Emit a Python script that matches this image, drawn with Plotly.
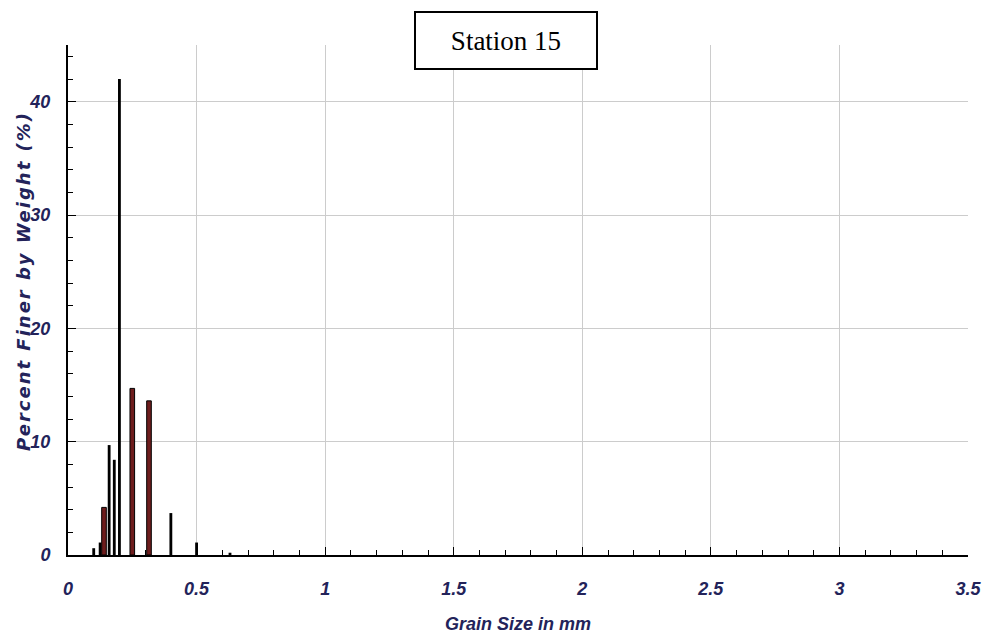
import plotly.graph_objects as go

# Grain size (mm) and percent by weight
black_sizes = [0.1, 0.125, 0.16, 0.18, 0.2, 0.4, 0.5, 0.63]
black_pct = [0.6, 1.1, 9.7, 8.4, 42.0, 3.7, 1.1, 0.2]
red_sizes = [0.14, 0.25, 0.315]
red_pct = [4.2, 14.7, 13.6]

x_ticks = [0, 0.5, 1, 1.5, 2, 2.5, 3, 3.5]
x_tick_text = ["0", "0.5", "1", "1.5", "2", "2.5", "3", "3.5"]
y_ticks = [0, 10, 20, 30, 40]

label_color = "#23235a"
tick_font = dict(family="Liberation Sans Narrow, Liberation Sans, Arial", size=18, color=label_color,
                 weight="bold", style="italic")
title_font_y = dict(family="DejaVu Sans", size=18, color=label_color,
                    weight="bold", style="italic")
title_font_x = dict(family="Liberation Sans Narrow, Liberation Sans, Arial", size=18, color=label_color,
                    weight="bold", style="italic")

fig = go.Figure()
fig.add_trace(go.Bar(x=black_sizes, y=black_pct, width=0.011,
                     marker=dict(color="black", line=dict(width=0)),
                     showlegend=False))
fig.add_trace(go.Bar(x=red_sizes, y=red_pct, width=0.018,
                     marker=dict(color="#6e1d1d", line=dict(color="black", width=1)),
                     showlegend=False))

fig.update_layout(
    width=984, height=642,
    margin=dict(l=68, r=16, t=45, b=87),
    paper_bgcolor="white", plot_bgcolor="white",
    barmode="overlay",
    xaxis=dict(range=[0, 3.5], tickvals=x_ticks, ticktext=x_tick_text, automargin=False,
               showgrid=True, gridcolor="#cccccc", gridwidth=1,
               showline=True, linecolor="black", linewidth=2,
               ticks="inside", ticklen=8, tickcolor="black",
               minor=dict(dtick=0.1, ticks="inside", ticklen=5, tickcolor="black", showgrid=False),
               tickfont=tick_font, ticklabelstandoff=16, zeroline=False,
               title=dict(text="Grain Size in mm", standoff=20, font=title_font_x)),
    yaxis=dict(range=[0, 45], tickvals=y_ticks, automargin=False,
               showgrid=True, gridcolor="#cccccc", gridwidth=1,
               showline=True, linecolor="black", linewidth=2,
               ticks="inside", ticklen=8, tickcolor="black",
               minor=dict(dtick=2, ticks="inside", ticklen=5, tickcolor="black", showgrid=False),
               tickfont=tick_font, ticklabelstandoff=12, zeroline=False),
    annotations=[
        dict(text="Station 15", xref="paper", yref="paper",
             x=(506 - 68) / 900, y=(555 - 40.5) / 510,
             xanchor="center", yanchor="middle", showarrow=False,
             width=180, height=55, borderpad=0,
             bordercolor="black", borderwidth=2, bgcolor="white",
             font=dict(family="Liberation Serif, Times New Roman", size=27, color="black")),
        dict(text="Percent Finer by Weight (%)", xref="paper", yref="paper",
             x=(23 - 68) / 900, y=(555 - 281) / 510, textangle=-90,
             xanchor="center", yanchor="middle", showarrow=False,
             font=title_font_y),
    ],
)

post = """
document.querySelectorAll('text.annotation-text').forEach(function(t){
  if (t.textContent.indexOf('Percent') === 0) { t.style.letterSpacing = '2px'; }
});
"""
fig.write_html("out.html", post_script=post)
